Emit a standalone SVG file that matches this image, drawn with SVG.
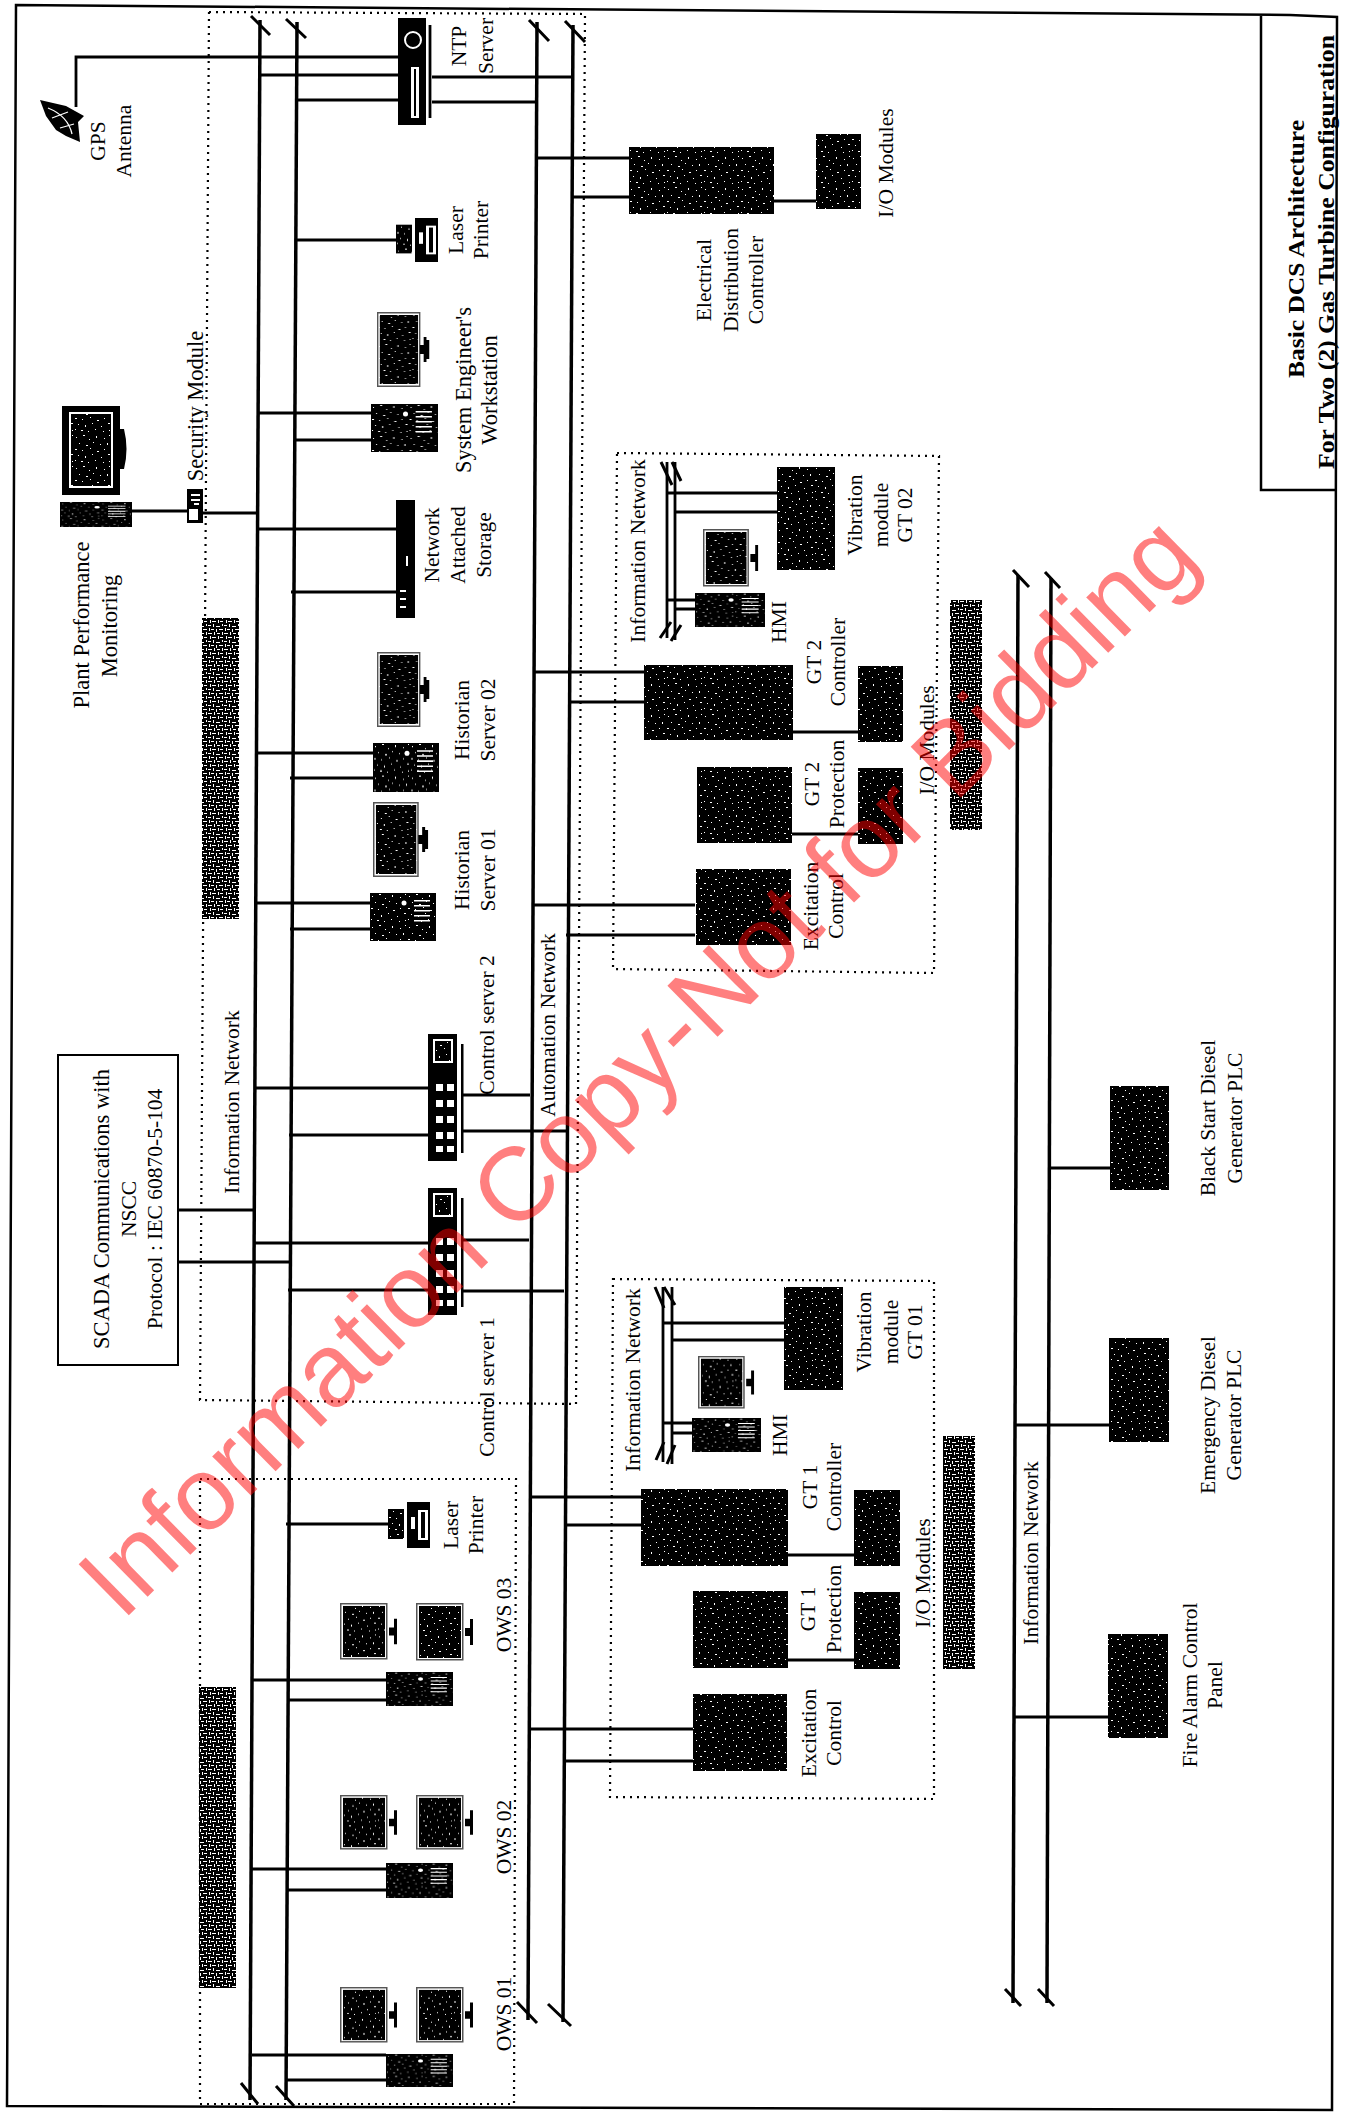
<svg xmlns="http://www.w3.org/2000/svg" width="1348" height="2112" viewBox="0 0 1348 2112">
<style>
text{font-family:"Liberation Serif","Times New Roman",serif;font-size:21.5px;fill:#000;text-anchor:middle}
.d{fill:url(#stip)}
.h{fill:url(#hatch)}
.bus{stroke:#000;stroke-width:3.5;fill:none}
.c{stroke:#000;stroke-width:2.8;fill:none}
.t{stroke:#000;stroke-width:3;fill:none}
.dot{stroke:#000;stroke-width:2.2;stroke-dasharray:2 5;fill:none}
.w{fill:#fff}
.k{fill:#000}
.big{font-size:22.5px}
</style>
<defs>
<pattern id="stip" width="37" height="31" patternUnits="userSpaceOnUse">
<rect width="37" height="31" fill="#000"/>
<path fill="#fff" d="M2 3h1v1h-1zM9 1h2v1h-2zM15 5h1v1h-1zM22 2h1v2h-1zM30 4h1v1h-1zM35 1h1v1h-1zM5 9h1v1h-1zM12 11h2v1h-2zM19 8h1v1h-1zM26 10h1v1h-1zM33 9h1v2h-1zM1 15h2v1h-2zM8 16h1v1h-1zM16 14h1v1h-1zM23 17h2v1h-2zM30 15h1v1h-1zM4 21h1v1h-1zM11 22h1v2h-1zM18 20h1v1h-1zM27 23h1v1h-1zM34 20h2v1h-2zM7 27h2v1h-2zM14 28h1v1h-1zM21 26h1v1h-1zM29 28h1v1h-1zM1 26h1v1h-1zM35 27h1v1h-1z"/>
</pattern>
<pattern id="hatch" width="16" height="16" patternUnits="userSpaceOnUse">
<rect width="16" height="16" fill="#000"/>
<path fill="#fff" d="M0 1h3v1h-3zM5 0h1v3h-1zM8 2h4v1h-4zM14 0h1v2h-1zM1 4h1v3h-1zM3 5h3v1h-3zM8 5h1v3h-1zM11 5h4v1h-4zM0 9h4v1h-4zM6 8h1v3h-1zM9 9h3v1h-3zM14 8h1v3h-1zM2 12h1v3h-1zM4 13h4v1h-4zM10 12h1v3h-1zM12 13h3v1h-3z"/>
</pattern>
<symbol id="tower" viewBox="0 0 66 48" preserveAspectRatio="none">
<rect class="d" width="66" height="48"/>
<circle cx="34" cy="10" r="2.500" fill="#fff"/>
<path fill="#fff" d="M44 7h16v1.500h-16zM44 12h16v1.500h-16zM44 17h16v1.500h-16zM44 22h16v1.500h-16zM44 27h16v1.500h-16z"/>
</symbol>
<symbol id="mon" viewBox="0 0 60 75" preserveAspectRatio="none">
<rect x="0.750" y="0.750" width="45" height="73.500" fill="#fff" stroke="#555" stroke-width="1.500"/>
<rect class="d" x="3" y="3" width="41" height="69"/>
<path class="k" d="M46 33h4v-8h3v3h3v19h-3v3h-3v-8h-4z"/>
</symbol>
<symbol id="mon2" viewBox="0 0 60 58" preserveAspectRatio="none">
<rect x="0.750" y="0.750" width="46" height="56" fill="#fff" stroke="#555" stroke-width="1.500"/>
<rect class="d" x="3" y="3" width="42" height="52"/>
<path class="k" d="M49 25h5v-9h3v26h-3v-9h-5z"/>
</symbol>
<symbol id="sw" viewBox="0 0 36 127" preserveAspectRatio="none">
<rect class="k" width="29" height="127"/>
<rect class="w" x="5" y="5" width="20" height="24"/>
<rect class="d" x="7" y="7" width="16" height="20"/>
<path class="w" d="M8 50h7v7h-7zM19 50h7v7h-7zM8 66h7v7h-7zM19 66h7v7h-7zM8 82h7v7h-7zM19 82h7v7h-7zM8 98h7v7h-7zM19 98h7v7h-7zM8 112h7v6h-7zM19 112h7v6h-7z"/>
<rect class="k" x="33" y="10" width="2.500" height="109"/>
</symbol>
<symbol id="prn" viewBox="0 0 42 46" preserveAspectRatio="none">
<rect class="d" x="0" y="7" width="16" height="30"/>
<rect class="k" x="19" y="0" width="23" height="46"/>
<rect class="w" x="30" y="8" width="10" height="30"/>
<rect class="k" x="33" y="10" width="4" height="26"/>
<rect class="w" x="23" y="15" width="4" height="12"/>
</symbol>
</defs>
<rect width="1348" height="2112" fill="#fff"/>

<g id="frame">
<path d="M16 5L1290 15L1337 17L1332 2110L7 2106Z" stroke="#000" stroke-width="2.500" fill="none"/>
</g>

<g id="groups">
<path class="dot" d="M209 12L585 14L576 1404L200 1400Z"/>
<path class="dot" d="M200 1479L516 1479L514 2104L200 2104Z"/>
<path class="dot" d="M617 453L939 456L934 973L613 969Z"/>
<path class="dot" d="M613 1279L934 1281L934 1799L610 1797Z"/>
</g>

<g id="connectors">
<path class="bus" d="M260 20L250 2100"/>
<path class="t" d="M251 16L270 35M241 2083L258 2104"/>
<path class="bus" d="M297 22L286 2100"/>
<path class="t" d="M286 19L306 38M276 2086L294 2106"/>
<path class="bus" d="M537 22L528 2020"/>
<path class="t" d="M529 20L549 41M517 2002L537 2023"/>
<path class="bus" d="M573 25L563 2022"/>
<path class="t" d="M565 21L585 42M548 2004L571 2026"/>
<path class="bus" d="M1018 575L1013 2003"/>
<path class="t" d="M1013 570L1029 587M1005 1989L1021 2006"/>
<path class="bus" d="M1051 578L1047 2003"/>
<path class="t" d="M1045 572L1060 588M1038 1989L1054 2006"/>

<path class="c" d="M76 107V57H398M260 75H398M297 100H398M432 77H573M432 102H537"/>
<path class="c" d="M295 240H397M537 158H629M572 197H629M774 201H816"/>
<path class="c" d="M257 413H371M295 440H371M132 511H188M203 513H258M257 529H396M291 592H396"/>
<path class="c" d="M256 753H373M290 778H373M256 903H370M290 929H370"/>
<path class="c" d="M533 672H645M568 702H645M533 905H695M566 935H695M793 732H858M792 834H858"/>
<path class="c" d="M255 1088H428M289 1135H428M462 1095H530M462 1131H566M255 1243H428M288 1290H428M462 1240H529M462 1291H564"/>
<path class="c" d="M178 1210H254M178 1262H289"/>
<path class="c" d="M530 1497H641M564 1525H641M529 1729H693M563 1761H693M788 1555H854M788 1660H854"/>
<path class="c" d="M286 1524H388M252 1680H386M287 1700H386M252 1869H386M287 1890H386M252 2055H386M287 2080H386"/>
<path class="c" d="M1050 1168H1111M1015 1425H1109M1015 1717H1108"/>
<path class="c" d="M667 462V638M675 462V640M667 493H777M675 512H777M667 600H695M675 609H695"/>
<path class="t" d="M661 462L672 485M672 462L681 481M660 638L671 622M671 641L681 625"/>
<path class="c" d="M663 1287V1462M672 1287V1464M663 1323H784M672 1340H784M663 1423H692M672 1433H692"/>
<path class="t" d="M655 1287L664 1308M664 1287L675 1305M656 1460L664 1442M667 1464L675 1445"/>
</g>

<g id="redactions">
<rect class="h" x="202" y="618" width="37" height="301"/>
<rect class="h" x="199" y="1687" width="37" height="301"/>
<rect class="h" x="950" y="600" width="32" height="230"/>
<rect class="h" x="943" y="1436" width="32" height="233"/>
</g>

<g id="gps">
<path class="k" d="M40 100L66 106L84 116L78 122L80 142L66 136L56 130L46 116Z"/>
<path d="M48 108Q68 116 72 134M52 118L68 112M60 128L74 124" stroke="#fff" stroke-width="1.300" fill="none"/>
<text transform="translate(105,141) rotate(-90)">GPS</text>
<text transform="translate(131,141) rotate(-90)">Antenna</text>
</g>
<g id="ntp">
<rect class="k" x="398" y="18" width="28" height="107"/>
<circle cx="413" cy="40" r="8" fill="none" stroke="#fff" stroke-width="2"/>
<rect class="w" x="411" y="67" width="8" height="51"/>
<rect class="k" x="414" y="69" width="2" height="47"/>
<path class="c" d="M430 25V118"/>
<text transform="translate(466,46) rotate(-90)">NTP</text>
<text transform="translate(493,46) rotate(-90)">Server</text>
</g>
<g id="printer1">
<use href="#prn" x="396" y="218" width="42" height="44"/>
<text transform="translate(463,230) rotate(-90)">Laser</text>
<text transform="translate(488,230) rotate(-90)">Printer</text>
</g>
<g id="edc">
<rect class="d" x="629" y="147" width="145" height="67"/>
<text transform="translate(711,280) rotate(-90)">Electrical</text>
<text transform="translate(738,280) rotate(-90)">Distribution</text>
<text transform="translate(763,280) rotate(-90)">Controller</text>
</g>
<g id="edc-io">
<rect class="d" x="816" y="134" width="45" height="75"/>
<text transform="translate(893,163) rotate(-90)">I/O Modules</text>
</g>
<g id="title">
<path d="M1261 16V490H1337" stroke="#000" stroke-width="2.500" fill="none"/>
<text transform="translate(1304,249) rotate(-90)" style="font-weight:bold;font-size:24px" textLength="258" lengthAdjust="spacingAndGlyphs">Basic DCS Architecture</text>
<text transform="translate(1334,252) rotate(-90)" style="font-weight:bold;font-size:24px" textLength="434" lengthAdjust="spacingAndGlyphs">For Two (2) Gas Turbine Configuration</text>
</g>
<g id="sys-eng">
<use href="#mon" x="377" y="312" width="56" height="75"/>
<use href="#tower" x="371" y="404" width="67" height="48"/>
<text class="big" transform="translate(471,390) rotate(-90)">System Engineer's</text>
<text class="big" transform="translate(497,390) rotate(-90)">Workstation</text>
</g>
<g id="plant">
<rect class="k" x="62" y="406" width="58" height="89"/>
<rect class="w" x="69" y="412" width="44" height="76"/>
<rect class="d" x="71" y="414" width="40" height="72"/>
<path class="k" d="M120 429h4q5 20 0 40h-4z"/>
<use href="#tower" x="60" y="502" width="72" height="25"/>
<text class="big" transform="translate(89,625) rotate(-90)">Plant Performance</text>
<text class="big" transform="translate(117,626) rotate(-90)">Monitoring</text>
</g>
<g id="security">
<rect class="k" x="187" y="489" width="16" height="34"/>
<rect class="w" x="189" y="509" width="9" height="11"/>
<path class="w" d="M191 494h9v2h-9zM191 499h9v2h-9zM194 503h5v2h-5z"/>
<text class="big" transform="translate(203,406) rotate(-90)">Security Module</text>
</g>
<g id="nas">
<rect class="k" x="396" y="500" width="19" height="118"/>
<path class="w" d="M406 556h2v10h-2zM400 590h6v2h-6zM400 598h6v2h-6zM400 606h6v2h-6z"/>
<text transform="translate(439,545) rotate(-90)">Network</text>
<text transform="translate(465,545) rotate(-90)">Attached</text>
<text transform="translate(491,545) rotate(-90)">Storage</text>
</g>
<g id="hist2">
<use href="#mon" x="377" y="652" width="56" height="75"/>
<use href="#tower" x="373" y="743" width="66" height="49"/>
<text transform="translate(469,720) rotate(-90)">Historian</text>
<text transform="translate(495,720) rotate(-90)">Server 02</text>
</g>
<g id="hist1">
<use href="#mon" x="373" y="802" width="59" height="75"/>
<use href="#tower" x="370" y="893" width="66" height="48"/>
<text transform="translate(469,870) rotate(-90)">Historian</text>
<text transform="translate(495,870) rotate(-90)">Server 01</text>
</g>
<g id="ctrl2">
<use href="#sw" x="428" y="1034" width="36" height="127"/>
<text transform="translate(494,1025) rotate(-90)">Control server 2</text>
</g>
<g id="ctrl1">
<use href="#sw" x="428" y="1188" width="36" height="127"/>
<text transform="translate(494,1387) rotate(-90)">Control server 1</text>
</g>
<g id="scada">
<rect x="58" y="1055" width="120" height="310" fill="none" stroke="#000" stroke-width="2"/>
<text class="big" transform="translate(109,1209) rotate(-90)">SCADA Communications with</text>
<text transform="translate(136,1209) rotate(-90)">NSCC</text>
<text transform="translate(162,1209) rotate(-90)">Protocol : IEC 60870-5-104</text>
</g>
<text transform="translate(239,1102) rotate(-90)">Information Network</text>
<text transform="translate(555,1025) rotate(-90)">Automation Network</text>

<g id="gt2">
<text transform="translate(645,551) rotate(-90)">Information Network</text>
<g id="gt2-vib"><rect class="d" x="777" y="467" width="58" height="103"/>
<text transform="translate(862,515) rotate(-90)">Vibration</text>
<text transform="translate(888,515) rotate(-90)">module</text>
<text transform="translate(912,515) rotate(-90)">GT 02</text></g>
<g id="gt2-hmi"><use href="#mon2" x="703" y="529" width="58" height="58"/>
<use href="#tower" x="695" y="593" width="70" height="34"/>
<text transform="translate(786,622) rotate(-90)">HMI</text></g>
<g id="gt2-ctrl"><rect class="d" x="644" y="665" width="149" height="75"/>
<text transform="translate(821,662) rotate(-90)">GT 2</text>
<text transform="translate(845,662) rotate(-90)">Controller</text></g>
<g id="gt2-ctrl-io"><rect class="d" x="858" y="666" width="45" height="76"/></g>
<g id="gt2-prot"><rect class="d" x="697" y="767" width="95" height="76"/>
<text transform="translate(819,784) rotate(-90)">GT 2</text>
<text transform="translate(844,784) rotate(-90)">Protection</text></g>
<g id="gt2-prot-io"><rect class="d" x="858" y="768" width="45" height="76"/></g>
<g id="gt2-exc"><rect class="d" x="696" y="869" width="95" height="76"/>
<text transform="translate(818,906) rotate(-90)">Excitation</text>
<text transform="translate(843,906) rotate(-90)">Control</text></g>
<text transform="translate(934,740) rotate(-90)">I/O Modules</text>
</g>

<g id="gt1">
<text transform="translate(640,1380) rotate(-90)">Information Network</text>
<g id="gt1-vib"><rect class="d" x="784" y="1287" width="59" height="103"/>
<text transform="translate(871,1332) rotate(-90)">Vibration</text>
<text transform="translate(898,1332) rotate(-90)">module</text>
<text transform="translate(922,1332) rotate(-90)">GT 01</text></g>
<g id="gt1-hmi"><use href="#mon2" x="698" y="1356" width="59" height="53"/>
<use href="#tower" x="692" y="1418" width="69" height="34"/>
<text transform="translate(787,1435) rotate(-90)">HMI</text></g>
<g id="gt1-ctrl"><rect class="d" x="641" y="1489" width="147" height="77"/>
<text transform="translate(817,1487) rotate(-90)">GT 1</text>
<text transform="translate(841,1487) rotate(-90)">Controller</text></g>
<g id="gt1-ctrl-io"><rect class="d" x="854" y="1490" width="46" height="76"/></g>
<g id="gt1-prot"><rect class="d" x="693" y="1591" width="95" height="77"/>
<text transform="translate(815,1609) rotate(-90)">GT 1</text>
<text transform="translate(841,1609) rotate(-90)">Protection</text></g>
<g id="gt1-prot-io"><rect class="d" x="854" y="1592" width="46" height="77"/></g>
<g id="gt1-exc"><rect class="d" x="693" y="1694" width="94" height="77"/>
<text transform="translate(816,1733) rotate(-90)">Excitation</text>
<text transform="translate(841,1733) rotate(-90)">Control</text></g>
<text transform="translate(930,1573) rotate(-90)">I/O Modules</text>
</g>

<g id="black-start">
<rect class="d" x="1110" y="1086" width="59" height="104"/>
<text transform="translate(1215,1118) rotate(-90)">Black Start Diesel</text>
<text transform="translate(1242,1118) rotate(-90)">Generator PLC</text>
</g>
<g id="emergency">
<rect class="d" x="1109" y="1338" width="60" height="104"/>
<text transform="translate(1215,1415) rotate(-90)">Emergency Diesel</text>
<text transform="translate(1241,1415) rotate(-90)">Generator PLC</text>
</g>
<g id="fire">
<rect class="d" x="1108" y="1634" width="60" height="104"/>
<text transform="translate(1197,1685) rotate(-90)">Fire Alarm Control</text>
<text transform="translate(1222,1685) rotate(-90)">Panel</text>
</g>
<text transform="translate(1038,1553) rotate(-90)">Information Network</text>

<g id="printer2">
<use href="#prn" x="388" y="1502" width="42" height="46"/>
<text transform="translate(458,1525) rotate(-90)">Laser</text>
<text transform="translate(483,1525) rotate(-90)">Printer</text>
</g>
<g id="ows3">
<use href="#mon2" x="340" y="1603" width="60" height="57"/>
<use href="#mon2" x="416" y="1603" width="60" height="58"/>
<use href="#tower" x="386" y="1672" width="67" height="34"/>
<text transform="translate(511,1615) rotate(-90)">OWS 03</text>
</g>
<g id="ows2">
<use href="#mon2" x="340" y="1795" width="60" height="55"/>
<use href="#mon2" x="416" y="1795" width="60" height="55"/>
<use href="#tower" x="386" y="1863" width="67" height="35"/>
<text transform="translate(511,1837) rotate(-90)">OWS 02</text>
</g>
<g id="ows1">
<use href="#mon2" x="340" y="1987" width="60" height="56"/>
<use href="#mon2" x="416" y="1987" width="60" height="56"/>
<use href="#tower" x="386" y="2054" width="67" height="33"/>
<text transform="translate(511,2014) rotate(-90)">OWS 01</text>
</g>

<text id="watermark" transform="translate(122,1622) rotate(-44.500)" style="font-family:'Liberation Sans',Arial,sans-serif;font-size:104px;fill:#ff0000;fill-opacity:.5;text-anchor:start">Information Copy-Not for Bidding</text>
</svg>
